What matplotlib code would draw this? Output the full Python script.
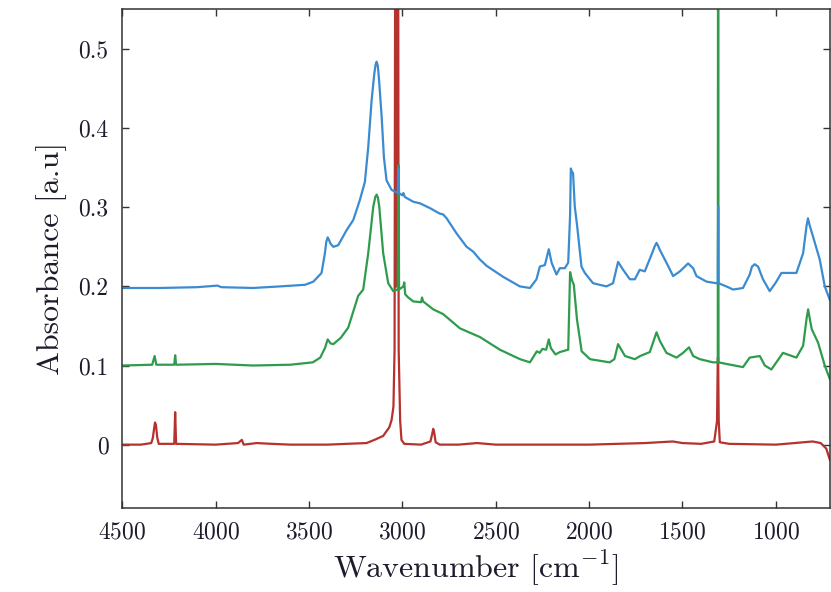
import matplotlib
matplotlib.use("Agg")
import matplotlib.pyplot as plt
from matplotlib.ticker import FixedLocator, FixedFormatter

plt.rcParams["font.family"] = "serif"
plt.rcParams["font.serif"] = ["cmr10"]
plt.rcParams["mathtext.fontset"] = "cm"
plt.rcParams["axes.formatter.use_mathtext"] = True

# Spectra: wavenumber [cm^-1] and absorbance, read at the main features
wn_top = [4500, 4300, 4100, 3990, 3970, 3800, 3655, 3522, 3477, 3433, 3415, 3408, 3400,
          3392, 3385, 3370, 3344, 3299, 3263, 3228, 3201, 3183, 3165, 3151, 3144, 3138,
          3132, 3126, 3111, 3099, 3085, 3058, 3025, 3023, 3020, 3018, 3000, 2995, 2987,
          2942, 2906, 2853, 2800, 2782, 2763, 2710, 2656, 2621, 2585, 2549, 2460, 2371,
          2317, 2282, 2264, 2237, 2216, 2201, 2175, 2157, 2130, 2112, 2102, 2098,
          2092, 2086, 2077, 2064, 2041, 2023, 1979, 1907, 1872, 1845, 1818, 1782,
          1755, 1729, 1702, 1666, 1650, 1639, 1630, 1621, 1586, 1550, 1514, 1470, 1443,
          1425, 1371, 1318, 1311, 1309, 1307, 1265, 1229, 1176, 1140, 1128, 1113, 1095,
          1069, 1033, 1000, 970, 890, 854, 836, 828, 820, 801, 765, 738, 711]
ab_top = [0.198, 0.198, 0.199, 0.201, 0.199, 0.198, 0.200, 0.202, 0.206, 0.217, 0.242, 0.256, 0.262,
          0.258, 0.254, 0.250, 0.252, 0.271, 0.284, 0.309, 0.332, 0.376, 0.435, 0.468, 0.480, 0.484,
          0.479, 0.464, 0.414, 0.363, 0.334, 0.322, 0.318, 0.349, 0.349, 0.318, 0.315, 0.318, 0.313,
          0.307, 0.305, 0.299, 0.292, 0.291, 0.286, 0.267, 0.250, 0.244, 0.234, 0.226, 0.212, 0.200,
          0.198, 0.209, 0.225, 0.227, 0.247, 0.230, 0.215, 0.223, 0.223, 0.230, 0.290, 0.349,
          0.345, 0.343, 0.301, 0.276, 0.225, 0.217, 0.204, 0.200, 0.204, 0.231, 0.221, 0.209,
          0.209, 0.221, 0.219, 0.240, 0.250, 0.255, 0.251, 0.246, 0.230, 0.213, 0.219, 0.229, 0.223,
          0.213, 0.206, 0.204, 0.204, 0.301, 0.204, 0.200, 0.196, 0.198, 0.215, 0.225, 0.228, 0.225,
          0.209, 0.194, 0.205, 0.217, 0.217, 0.242, 0.276, 0.286, 0.278, 0.263, 0.234, 0.200, 0.183]

wn_mid = [4500, 4340, 4327, 4318, 4222, 4217, 4212, 4000, 3800, 3600, 3480, 3440,
          3415, 3400, 3385, 3370, 3330, 3290, 3237, 3210, 3183, 3156, 3145, 3138, 3131,
          3124, 3103, 3076, 3049, 3025, 3022, 3020, 3018, 2995, 2990, 2985, 2969, 2942,
          2900, 2895, 2889, 2835, 2782, 2692, 2585, 2478, 2370, 2317, 2280, 2265,
          2250, 2230, 2216, 2205, 2180, 2157, 2112, 2102, 2092, 2082, 2065, 2040,
          1995, 1890, 1865, 1845, 1808, 1755, 1727, 1675, 1639, 1621, 1586, 1532,
          1497, 1465, 1443, 1407, 1336, 1311, 1309, 1307, 1265, 1176, 1140, 1086,
          1059, 1024, 962, 890, 854, 835, 827, 819, 808, 774, 738, 711]
ab_mid = [0.100, 0.101, 0.112, 0.101, 0.101, 0.113, 0.101, 0.102, 0.100, 0.101, 0.104, 0.110,
          0.122, 0.133, 0.128, 0.127, 0.135, 0.148, 0.188, 0.196, 0.242, 0.301, 0.313, 0.316, 0.312,
          0.301, 0.242, 0.204, 0.194, 0.196, 0.353, 0.353, 0.196, 0.200, 0.205, 0.190, 0.186, 0.181,
          0.180, 0.186, 0.181, 0.171, 0.165, 0.147, 0.136, 0.120, 0.108, 0.104, 0.118, 0.116,
          0.121, 0.120, 0.133, 0.122, 0.114, 0.117, 0.120, 0.218, 0.208, 0.202, 0.158, 0.118,
          0.108, 0.104, 0.108, 0.127, 0.112, 0.108, 0.112, 0.117, 0.142, 0.131, 0.116, 0.110,
          0.116, 0.123, 0.112, 0.108, 0.104, 0.104, 0.900, 0.104, 0.102, 0.098, 0.110, 0.112,
          0.100, 0.095, 0.116, 0.110, 0.125, 0.160, 0.171, 0.160, 0.146, 0.129, 0.100, 0.083]

wn_low = [4500, 4400, 4345, 4337, 4330, 4325, 4320, 4313, 4305, 4222, 4217, 4212, 4000,
          3880, 3860, 3850, 3780, 3700, 3600, 3400, 3300, 3192, 3150, 3103, 3070, 3058,
          3048, 3042, 3037, 3033, 3030, 3027, 3024, 3020, 3012, 3005, 2990, 2900,
          2850, 2840, 2835, 2830, 2822, 2800, 2700, 2600, 2500, 2000, 1700, 1552, 1500, 1400,
          1330, 1315, 1311, 1309, 1306, 1300, 1250, 1000, 900, 803, 760, 730, 711]
ab_low = [0.000, 0.000, 0.002, 0.008, 0.020, 0.028, 0.025, 0.009, 0.001, 0.001, 0.041, 0.001, 0.000,
          0.002, 0.006, 0.000, 0.002, 0.001, 0.000, 0.000, 0.001, 0.002, 0.006, 0.011, 0.022, 0.031,
          0.048, 0.120, 0.900, 0.200, 0.900, 0.200, 0.900, 0.120, 0.030, 0.006, 0.001, 0.000,
          0.004, 0.014, 0.020, 0.016, 0.003, 0.000, 0.000, 0.002, 0.000, 0.000, 0.002, 0.004, 0.002, 0.001,
          0.004, 0.030, 0.110, 0.110, 0.030, 0.003, 0.001, 0.000, 0.002, 0.004, 0.002, -0.005, -0.019]

x_ticks = [4500, 4000, 3500, 3000, 2500, 2000, 1500, 1000]
y_ticks = [0, 0.1, 0.2, 0.3, 0.4, 0.5]
y_labels = ["0", "0.1", "0.2", "0.3", "0.4", "0.5"]

fig = plt.figure(figsize=(8.31, 5.92), dpi=100)
ax = fig.add_axes([0.1472, 0.142, 0.8516, 0.842])

ax.plot(wn_low, ab_low, color="#b5322e", lw=1.6)
ax.plot(wn_mid, ab_mid, color="#2e9c4c", lw=1.6)
ax.plot(wn_top, ab_top, color="#3b8bd0", lw=1.6)

ax.set_xlim(4500, 710)
ax.set_ylim(-0.08, 0.55)

ax.xaxis.set_major_locator(FixedLocator(x_ticks))
ax.yaxis.set_major_locator(FixedLocator(y_ticks))
ax.yaxis.set_major_formatter(FixedFormatter(y_labels))

ax.tick_params(direction="in", top=True, right=True, length=5, width=1.0,
               labelsize=17, pad=10, colors="#333333", labelcolor="#1c1c2c")
for s in ax.spines.values():
    s.set_linewidth(1.1)
    s.set_color("#333333")

ax.set_xlabel(r"Wavenumber [cm$^{-1}$]", fontsize=23, color="#1c1c2c", labelpad=3)
ax.set_ylabel("Absorbance [a.u]", fontsize=23, color="#1c1c2c", labelpad=8)

fig.savefig("out.png", dpi=100)
